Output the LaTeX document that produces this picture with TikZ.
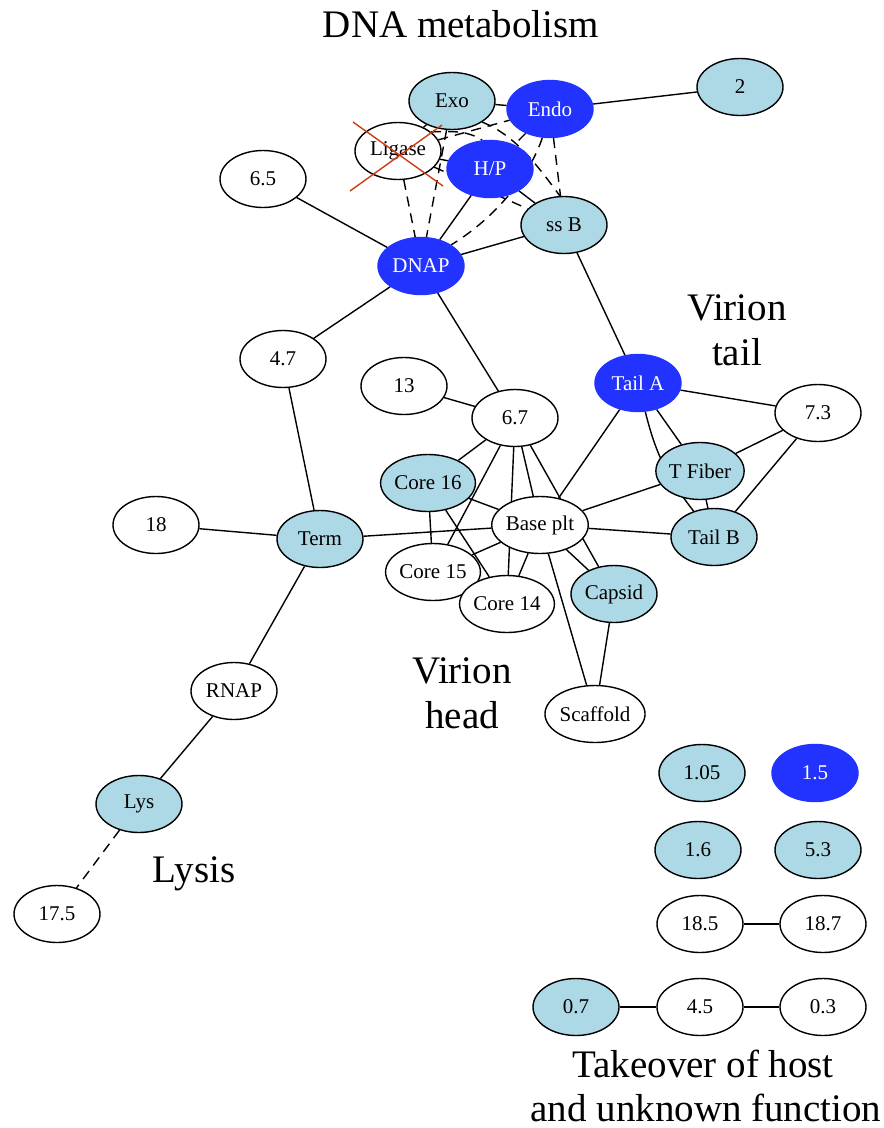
\documentclass[tikz,border=0pt]{standalone}
\usepackage{fontspec}
\setmainfont{Liberation Serif}
\usetikzlibrary{shapes.geometric}
\definecolor{dblue}{RGB}{34,51,255}
\definecolor{lblue}{RGB}{173,216,230}
\definecolor{xred}{RGB}{205,60,20}
\pgfdeclarelayer{background}
\pgfsetlayers{background,main}
\tikzset{
  nd/.style={ellipse,draw=black,line width=1.4pt,minimum width=86pt,minimum height=57pt,inner sep=0pt,font=\fontsize{21}{25}\selectfont},
  wn/.style={nd,fill=white},
  lb/.style={nd,fill=lblue},
  db/.style={nd,fill=dblue,draw=dblue,text=white},
  ed/.style={line width=1.4pt,black},
  dd/.style={line width=1.4pt,black,dash pattern=on 10pt off 7pt},
  ttl/.style={anchor=base,inner sep=0pt,font=\fontsize{39}{45}\selectfont},
  xline/.style={line width=1.4pt,xred}
}
\begin{document}
\begin{tikzpicture}[x=1pt,y=-1pt]
\useasboundingbox (0,0) rectangle (884,1128);
% nodes
\node[lb] (exo) at (452,101) {Exo};
\node[db] (endo) at (550,109) {Endo};
\node[lb] (n2) at (740,87) {2};
\node[wn] (lig) at (398,151) {Ligase};
\node[db] (hp) at (490,169) {H/P};
\node[lb] (ssb) at (564,225) {ss B};
\node[db] (dnap) at (421,266) {DNAP};
\node[wn] (n65) at (263,179) {6.5};
\node[wn] (n47) at (283,359) {4.7};
\node[wn] (n13) at (404,386) {13};
\node[wn] (n67) at (515,418) {6.7};
\node[db] (taila) at (638,383) {Tail A};
\node[wn] (n73) at (818,413) {7.3};
\node[lb] (tfib) at (700,471) {T Fiber};
\node[lb] (tailb) at (714,537) {Tail B};
\node[lb] (c16) at (428,483) {Core 16};
\node[wn] (base) at (540,525) {Base plt};
\node[wn] (c15) at (433,572) {Core 15};
\node[wn] (c14) at (507,604) {Core 14};
\node[lb] (capsid) at (614,594) {Capsid};
\node[wn] (scaf) at (595,714) {Scaffold};
\node[lb] (term) at (320,539) {Term};
\node[wn] (n18) at (156,525) {18};
\node[wn] (rnap) at (234,691) {RNAP};
\node[lb] (lys) at (139,804) {Lys};
\node[wn] (n175) at (57,914) {17.5};
\node[lb] (n105) at (702,773) {1.05};
\node[db] (n15) at (815,773) {1.5};
\node[lb] (n16) at (698,850) {1.6};
\node[lb] (n53) at (818,850) {5.3};
\node[wn] (n185) at (700,924) {18.5};
\node[wn] (n187) at (823,924) {18.7};
\node[lb] (n07) at (576,1007) {0.7};
\node[wn] (n45) at (700,1007) {4.5};
\node[wn] (n03) at (823,1007) {0.3};
% edges
\begin{pgfonlayer}{background}
\draw[ed] (endo) -- (n2);
\draw[ed] (exo) -- (endo);
\draw[ed] (exo) -- (lig);
\draw[dd] (exo) -- (dnap);
\draw[dd] (exo.-35) .. controls (515,135) and (537,165) .. (ssb.98);
\draw[dd] (lig) -- (endo);
\draw[ed] (lig) -- (hp);
\draw[dd] (lig.30) .. controls (455,131) and (468,131) .. (hp.105);
\draw[dd] (lig) -- (dnap);
\draw[dd] (lig) -- (ssb);
\draw[dd] (endo) -- (hp);
\draw[dd] (endo.255) .. controls (532,170) and (500,215) .. (dnap.35);
\draw[dd] (endo) -- (ssb);
\draw[ed] (hp) -- (dnap);
\draw[ed] (hp) -- (ssb);
\draw[ed] (dnap) -- (ssb);
\draw[ed] (dnap) -- (n65);
\draw[ed] (dnap) -- (n47);
\draw[ed] (dnap) -- (n67);
\draw[ed] (ssb) -- (taila);
\draw[ed] (n13) -- (n67);
\draw[ed] (n67) -- (c16);
\draw[ed] (n67) -- (c15);
\draw[ed] (n67) -- (c14);
\draw[ed] (n67) -- (base);
\draw[ed] (n67) -- (capsid);
\draw[ed] (taila) -- (base);
\draw[ed] (taila) -- (n73);
\draw[ed] (taila) -- (tfib);
\draw[ed] (taila) to[bend right=12] (tailb);
\draw[ed] (n73) -- (tfib);
\draw[ed] (n73) -- (tailb);
\draw[ed] (tfib) -- (tailb);
\draw[ed] (tfib) -- (base);
\draw[ed] (tailb) -- (base);
\draw[ed] (c16) -- (base);
\draw[ed] (c16) -- (c15);
\draw[ed] (c16) -- (c14);
\draw[ed] (c15) -- (base);
\draw[ed] (c14) -- (base);
\draw[ed] (base) -- (capsid);
\draw[ed] (base) -- (scaf);
\draw[ed] (capsid) -- (scaf);
\draw[ed] (base) -- (term);
\draw[ed] (term) -- (n47);
\draw[ed] (term) -- (n18);
\draw[ed] (term) -- (rnap);
\draw[ed] (rnap) -- (lys);
\draw[dd] (lys) -- (n175);
\draw[ed] (n185) -- (n187);
\draw[ed] (n07) -- (n45);
\draw[ed] (n45) -- (n03);
\end{pgfonlayer}
% red cross over Ligase
\coordinate (xa) at (353,122);
\coordinate (xb) at (443,186);
\coordinate (xc) at (350,191);
\coordinate (xd) at (442,125);
\draw[xline] (xa) -- (xb);
\draw[xline] (xc) -- (xd);
% titles
\node[ttl] (t1) at (461,37) {DNA metabolism};
\node[ttl] (t2) at (737,320) {Virion};
\node[ttl] (t3) at (737,365) {tail};
\node[ttl] (t4) at (462,683) {Virion};
\node[ttl] (t5) at (462,728) {head};
\node[ttl] (t6) at (194,882) {Lysis};
\node[ttl] (t7) at (703,1077) {Takeover of host};
\node[ttl] (t8) at (706,1121) {and unknown function};
\end{tikzpicture}
\end{document}
